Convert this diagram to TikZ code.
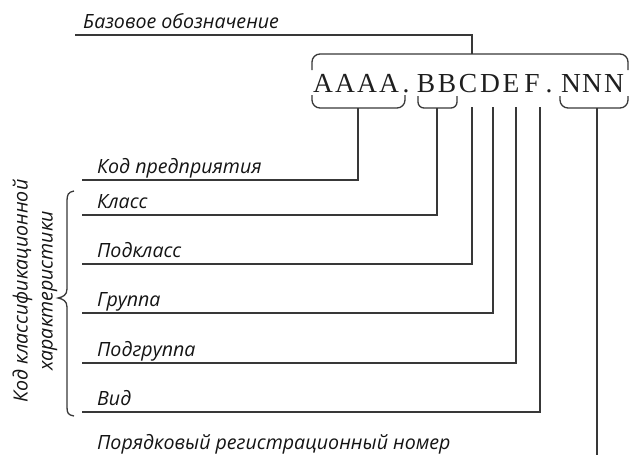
\documentclass[tikz,border=0pt]{standalone}
\usepackage{fontspec}
\newfontfamily\lblfont{Open Sans}
\newfontfamily\codefont{Liberation Serif}
\begin{document}
\begin{tikzpicture}[x=1pt,y=-1pt,
  wire/.style={draw=black!78,line width=1.3pt},
  codech/.style={anchor=base,inner sep=0pt,font=\codefont\fontsize{27.5}{27.5}\selectfont,text=black!88},
  lbl/.style={anchor=base west,inner sep=0pt,font=\lblfont\itshape\fontsize{19.6}{25}\selectfont,text=black!92}]
\useasboundingbox (0,0) rectangle (631,455);

% the code string, one letter per node
\foreach \ch/\cx/\nm in {A/323/a1,A/345/a2,A/367/a3,A/389/a4,./406/p1,
    B/426/b1,B/447/b2,C/468/c,D/490/d,E/511/e,F/532/f,./549/p2,
    N/571/n1,N/592/n2,N/614/n3}
  \node[codech] (\nm) at (\cx,92.5) {\ch};

% labels
\node[lbl] (base) at (83,28)  {Базовое обозначение};
\node[lbl] (ent)  at (97,173) {Код предприятия};
\node[lbl] (cls)  at (97,208) {Класс};
\node[lbl] (scls) at (97,257) {Подкласс};
\node[lbl] (grp)  at (97,306) {Группа};
\node[lbl] (sgrp) at (97,356) {Подгруппа};
\node[lbl] (kind) at (97,405) {Вид};
\node[lbl] (reg)  at (97,449) {Порядковый регистрационный номер};
\node[lbl,anchor=center,align=center,rotate=90] (cc) at (35,291)
  {Код классификационной\\характеристики};

% braces over and under the groups of characters
\draw[wire,rounded corners=8pt] (312,70) -- (312,54) -- (628,54) -- (628,70);
\draw[wire,rounded corners=8pt] (312,95) -- (312,108) -- (405,108) -- (405,95);
\draw[wire,rounded corners=6pt] (418,96) -- (418,108) -- (457,108) -- (457,96);
\draw[wire,rounded corners=8pt] (560,96) -- (560,108) -- (628,108) -- (628,96);

% brace in front of the classification lines
\draw[wire] (74,191) .. controls (68,192) and (67,195) .. (67,201)
  -- (67,289) .. controls (67,295) and (63,297) .. (58,298)
  .. controls (63,299) and (67,301) .. (67,307)
  -- (67,407) .. controls (67,413) and (68,415) .. (74,416);

% connection points
\coordinate (topc) at (472,54);
\coordinate (aleg) at (358,108);
\coordinate (bleg) at (437,108);
\coordinate (nleg) at (597,108);

% leader lines
\draw[wire] (topc) |- (75,35);
\draw[wire] (aleg) |- (82,180);
\draw[wire] (bleg) |- (82,215);
\draw[wire] (472,107) |- (82,264);
\draw[wire] (493,107) |- (82,313);
\draw[wire] (516,107) |- (82,363);
\draw[wire] (540,107) |- (82,412);
\draw[wire] (nleg) -- (597,455);
\end{tikzpicture}
\end{document}
